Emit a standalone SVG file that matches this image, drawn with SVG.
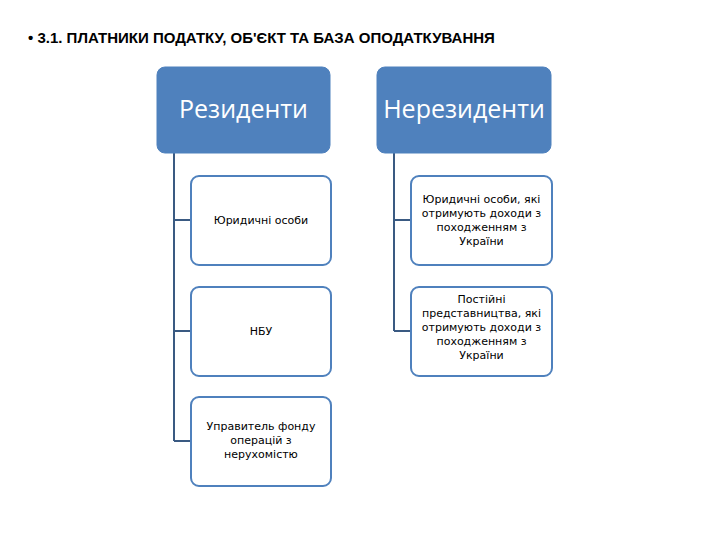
<svg xmlns="http://www.w3.org/2000/svg" width="720" height="540" viewBox="0 0 720 540">
<style>
.top{fill:#4F81BD;stroke:#4F81BD}
.ch{fill:#fff;stroke:#4F81BD;stroke-width:2}
.tt{font-family:"Open Sans","DejaVu Sans",sans-serif;font-size:25px;fill:#fff;text-anchor:middle}
.ct{font-family:"DejaVu Sans",sans-serif;font-size:11px;fill:#000;text-anchor:middle}
.ln{stroke:#3A5A82;stroke-width:2;fill:none}
</style>
<rect width="720" height="540" fill="#fff"/>
<text x="28" y="43" font-family="Liberation Sans,sans-serif" font-size="15" font-weight="bold">•  3.1. ПЛАТНИКИ ПОДАТКУ, ОБ'ЄКТ  ТА  БАЗА ОПОДАТКУВАННЯ</text>
<g id="connectors">
<path class="ln" d="M174 153V441M174 220H191M174 331H191M174 441H191"/>
<path class="ln" d="M394 153V331M394 220H411M394 331H411"/>
</g>
<g id="rez"><rect class="top" x="157" y="67" width="173" height="86" rx="8"/><text class="tt" x="243.5" y="118">Резиденти</text></g>
<g id="nerez"><rect class="top" x="377" y="67" width="174" height="86" rx="8"/><text class="tt" x="464" y="118">Нерезиденти</text></g>
<g id="c1"><rect class="ch" x="191" y="176" width="140" height="89" rx="8"/><text class="ct" x="261" y="224">Юридичні особи</text></g>
<g id="c2"><rect class="ch" x="191" y="287" width="140" height="89" rx="8"/><text class="ct" x="261" y="335">НБУ</text></g>
<g id="c3"><rect class="ch" x="191" y="397" width="140" height="89" rx="8"/><text class="ct" x="261" y="430">Управитель фонду</text><text class="ct" x="261" y="444">операцій з</text><text class="ct" x="261" y="458">нерухомістю</text></g>
<g id="c4"><rect class="ch" x="411" y="176" width="141" height="89" rx="8"/><text class="ct" x="481.5" y="203">Юридичні особи, які</text><text class="ct" x="481.5" y="217">отримують доходи з</text><text class="ct" x="481.5" y="231">походженням з</text><text class="ct" x="481.5" y="245">України</text></g>
<g id="c5"><rect class="ch" x="411" y="287" width="141" height="89" rx="8"/><text class="ct" x="481.5" y="303">Постійні</text><text class="ct" x="481.5" y="317">представництва, які</text><text class="ct" x="481.5" y="331">отримують доходи з</text><text class="ct" x="481.5" y="345">походженням з</text><text class="ct" x="481.5" y="359">України</text></g>
</svg>
